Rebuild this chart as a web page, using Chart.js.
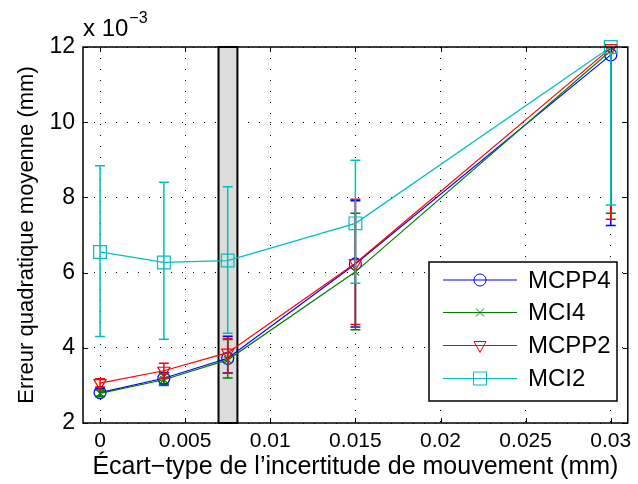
<!DOCTYPE html>
<html>
<head>
    <script src="https://cdn.jsdelivr.net/npm/chart.js"></script>
    <style>
        body { margin: 0; background: #fff; }
        #chart { display: block; }
    </style>
</head>
<body>
    <canvas id="chart" width="638" height="484"></canvas>
    <script>
        // data (y values in units of 1e-3 mm)
        const xValues = [0, 0.00375, 0.0075, 0.015, 0.03];
        const xTicks = [0, 0.005, 0.01, 0.015, 0.02, 0.025, 0.03];
        const xTickLabels = ['0', '0.005', '0.01', '0.015', '0.02', '0.025', '0.03'];
        const yTickLabels = ['2', '4', '6', '8', '10', '12'];

        const mcpp4 = [2.81, 3.19, 3.72, 6.23, 11.79];
        const mcpp4Low = [2.71, 3.04, 3.33, 4.55, 7.25];
        const mcpp4High = [2.91, 3.34, 4.31, 7.91, 16.3];

        const mci4 = [2.79, 3.15, 3.68, 6.02, 11.9];
        const mci4Low = [2.70, 3.00, 3.20, 4.48, 7.58];
        const mci4High = [2.88, 3.30, 4.22, 7.58, 16.2];

        const mcpp2 = [3.06, 3.39, 3.87, 6.25, 11.97];
        const mcpp2Low = [2.96, 3.20, 3.32, 4.62, 7.42];
        const mcpp2High = [3.18, 3.59, 4.25, 7.95, 16.5];

        const mci2 = [6.55, 6.27, 6.32, 7.31, 12.0];
        const mci2Low = [4.30, 4.23, 4.39, 5.72, 7.80];
        const mci2High = [8.84, 8.40, 8.28, 8.99, 16.2];

        const bandX = [0.00696, 0.00807];

        const FONT = "'Liberation Sans', Arial, sans-serif";

        function pts(ys) {
            return xValues.map((x, i) => ({ x: x, y: ys[i] }));
        }

        const series = [
            { label: 'MCPP4', data: mcpp4, low: mcpp4Low, high: mcpp4High, color: '#0000ff', marker: 'circle', order: 4 },
            { label: 'MCI4', data: mci4, low: mci4Low, high: mci4High, color: '#008000', marker: 'cross', order: 3 },
            { label: 'MCPP2', data: mcpp2, low: mcpp2Low, high: mcpp2High, color: '#ff0000', marker: 'tri', order: 2 },
            { label: 'MCI2', data: mci2, low: mci2Low, high: mci2High, color: '#00bfbf', marker: 'square', order: 1 }
        ];

        const chartStyles = {
            circle: { pointStyle: 'circle', pointRadius: 6, pointRotation: 0 },
            cross: { pointStyle: 'crossRot', pointRadius: 5, pointRotation: 0 },
            tri: { pointStyle: 'triangle', pointRadius: 7, pointRotation: 180 },
            square: { pointStyle: 'rect', pointRadius: 9, pointRotation: 0 }
        };

        function drawMarker(ctx, kind, x, y, color) {
            ctx.save();
            ctx.strokeStyle = color;
            ctx.lineWidth = 1;
            ctx.beginPath();
            if (kind === 'circle') {
                ctx.arc(x, y, 6, 0, Math.PI * 2);
            } else if (kind === 'cross') {
                ctx.moveTo(x - 4, y - 4); ctx.lineTo(x + 4, y + 4);
                ctx.moveTo(x + 4, y - 4); ctx.lineTo(x - 4, y + 4);
            } else if (kind === 'tri') {
                ctx.moveTo(x - 6, y - 4); ctx.lineTo(x + 6, y - 4); ctx.lineTo(x, y + 7); ctx.closePath();
            } else {
                ctx.rect(x - 6.5, y - 6.5, 13, 13);
            }
            ctx.stroke();
            ctx.restore();
        }

        const errorBars = {
            id: 'errorBars',
            afterDatasetDraw(chart, args) {
                const s = series[args.index];
                const ctx = chart.ctx;
                const xs = chart.scales.x, ys = chart.scales.y;
                const a = chart.chartArea;
                ctx.save();
                ctx.beginPath();
                ctx.rect(a.left, a.top, a.right - a.left, a.bottom - a.top);
                ctx.clip();
                ctx.strokeStyle = s.color;
                ctx.lineWidth = 1.5;
                xValues.forEach((xv, i) => {
                    const px = xs.getPixelForValue(xv);
                    const lo = ys.getPixelForValue(s.low[i]);
                    const hi = ys.getPixelForValue(s.high[i]);
                    ctx.beginPath();
                    ctx.moveTo(px, lo); ctx.lineTo(px, hi);
                    ctx.moveTo(px - 5, lo); ctx.lineTo(px + 5, lo);
                    ctx.moveTo(px - 5, hi); ctx.lineTo(px + 5, hi);
                    ctx.stroke();
                });
                ctx.restore();
            }
        };

        const frame = {
            id: 'frame',
            beforeDatasetsDraw(chart) {
                const ctx = chart.ctx;
                const a = chart.chartArea;
                const x0 = chart.scales.x.getPixelForValue(bandX[0]);
                const x1 = chart.scales.x.getPixelForValue(bandX[1]);
                ctx.save();
                ctx.fillStyle = '#dcdcdc';
                ctx.fillRect(x0, a.top, x1 - x0, a.bottom - a.top);
                ctx.strokeStyle = '#000';
                ctx.lineWidth = 2;
                ctx.strokeRect(x0, a.top, x1 - x0, a.bottom - a.top);
                ctx.restore();
            },
            afterDraw(chart) {
                const ctx = chart.ctx;
                const a = chart.chartArea;
                const xs = chart.scales.x, ys = chart.scales.y;
                ctx.save();
                // axes box
                ctx.strokeStyle = '#000';
                ctx.lineWidth = 1.5;
                ctx.strokeRect(a.left, a.top, a.right - a.left, a.bottom - a.top);
                // inward ticks
                ctx.lineWidth = 1;
                ctx.beginPath();
                xTicks.forEach(v => {
                    const p = Math.round(xs.getPixelForValue(v)) + 0.5;
                    ctx.moveTo(p, a.bottom); ctx.lineTo(p, a.bottom - 5);
                    ctx.moveTo(p, a.top); ctx.lineTo(p, a.top + 5);
                });
                yTickLabels.forEach(t => {
                    const p = Math.round(ys.getPixelForValue(Number(t))) + 0.5;
                    ctx.moveTo(a.left, p); ctx.lineTo(a.left + 5, p);
                    ctx.moveTo(a.right, p); ctx.lineTo(a.right - 5, p);
                });
                ctx.stroke();

                // exponent label
                ctx.fillStyle = '#000';
                ctx.textBaseline = 'alphabetic';
                ctx.textAlign = 'left';
                ctx.font = '24px ' + FONT;
                ctx.fillText('x 10', a.left, 36);
                const w = ctx.measureText('x 10').width;
                ctx.font = '16px ' + FONT;
                ctx.fillText('\u22123', a.left + w + 1, 23);

                // legend
                const lx = 429, ly = 262, lw = 188, lh = 139;
                ctx.fillStyle = '#fff';
                ctx.fillRect(lx, ly, lw, lh);
                ctx.strokeStyle = '#000';
                ctx.lineWidth = 1.5;
                ctx.strokeRect(lx, ly, lw, lh);
                const rows = [280, 312.5, 345.5, 378.5];
                series.forEach((s, i) => {
                    const y = rows[i];
                    ctx.strokeStyle = s.color;
                    ctx.lineWidth = 1;
                    ctx.beginPath();
                    ctx.moveTo(443, y); ctx.lineTo(517, y);
                    ctx.stroke();
                    drawMarker(ctx, s.marker, 480, y, s.color);
                    ctx.fillStyle = '#000';
                    ctx.font = '24px ' + FONT;
                    ctx.textBaseline = 'middle';
                    ctx.fillText(s.label, 528, y + 1);
                });
                ctx.restore();
            }
        };

        const ctx = document.getElementById('chart').getContext('2d');
        new Chart(ctx, {
            type: 'scatter',
            data: {
                datasets: series.map(s => Object.assign({
                    label: s.label,
                    data: pts(s.data),
                    showLine: true,
                    borderColor: s.color,
                    borderWidth: 1.2,
                    pointBorderColor: s.color,
                    pointBackgroundColor: 'rgba(0,0,0,0)',
                    pointBorderWidth: 1.2,
                    clip: false,
                    order: s.order
                }, chartStyles[s.marker]))
            },
            options: {
                responsive: false,
                animation: false,
                devicePixelRatio: 1,
                layout: { padding: { top: 47, right: 7, left: 0, bottom: 0 } },
                plugins: {
                    legend: { display: false },
                    tooltip: { enabled: false }
                },
                scales: {
                    x: {
                        type: 'linear',
                        min: -0.001,
                        max: 0.031,
                        afterBuildTicks: s => { s.ticks = xTicks.map(v => ({ value: v })); },
                        afterFit: s => { s.height = 61; },
                        ticks: {
                            autoSkip: false,
                            maxRotation: 0,
                            padding: 6,
                            color: '#000',
                            font: { family: FONT, size: 21 },
                            callback: (v) => xTickLabels[xTicks.indexOf(v)] ?? ''
                        },
                        grid: { color: '#000', lineWidth: 1, drawTicks: false },
                        border: { display: false, dash: [1, 10] },
                        title: {
                            display: true,
                            text: '\u00c9cart\u2212type de l\u2019incertitude de mouvement (mm)',
                            color: '#000',
                            font: { family: FONT, size: 25 },
                            padding: { top: 0, bottom: 2 }
                        }
                    },
                    y: {
                        min: 2,
                        max: 12,
                        afterBuildTicks: s => { s.ticks = yTickLabels.map(t => ({ value: Number(t) })); },
                        afterFit: s => { s.width = 83; },
                        ticks: {
                            padding: 8,
                            color: '#000',
                            font: { family: FONT, size: 23 },
                            callback: (v) => String(v)
                        },
                        grid: { color: '#000', lineWidth: 1, drawTicks: false },
                        border: { display: false, dash: [1, 10] },
                        title: {
                            display: true,
                            text: 'Erreur quadratique moyenne (mm)',
                            color: '#000',
                            font: { family: FONT, size: 22 },
                            padding: { top: 14, bottom: 0 }
                        }
                    }
                }
            },
            plugins: [errorBars, frame]
        });
    </script>
</body>
</html>
